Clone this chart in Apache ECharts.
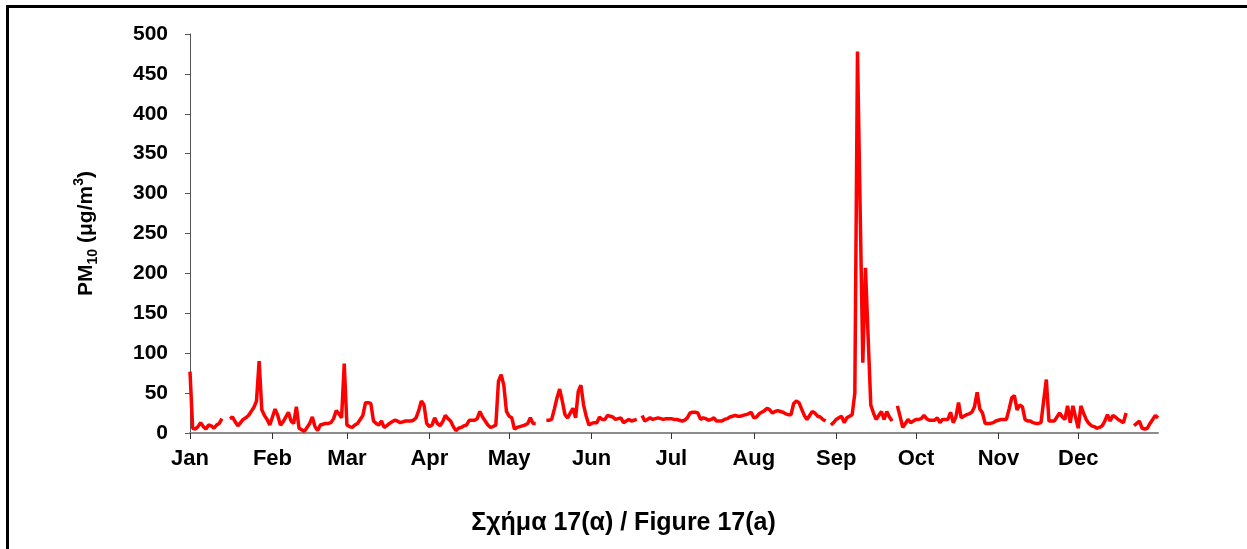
<!DOCTYPE html>
<html>
<head>
<meta charset="utf-8">
<script src="https://cdn.jsdelivr.net/npm/echarts@6/dist/echarts.min.js"></script>
<style>
html,body{margin:0;padding:0;background:#fff;}
#chart{width:1247px;height:549px;}
</style>
</head>
<body>
<div id="chart"></div>
<script>
// Tick labels (month names) and month lengths
const monthLabels = ['Jan','Feb','Mar','Apr','May','Jun','Jul','Aug','Sep','Oct','Nov','Dec'];
const monthDays = [31,28,31,30,31,30,31,31,30,31,30,31];

// Daily PM10 values (µg/m3), one array per month; null = missing day
const jan = [77,6,5,8,13,8,5,10,9,6, 10,12,18,null,null,18,20,14,9,13, 17,19,22,27,32,40,90,29,22,17, 10];
const feb = [20,30,22,10,14,20,26,15,12,33, 6,4,2,7,12,20,8,3,10,11, 12,12,13,18,28,24,19,87];
const mar = [10,8,7,10,12,17,22,38,38,37, 15,12,10,15,7,9,12,14,16,15, 13,14,15,15,15,16,19,28,40,35, 12];
const apr = [8,10,19,12,9,14,22,18,15,8, 3,6,7,9,10,16,16,16,18,27, 20,15,10,7,8,10,65,73,60,27];
const may = [21,19,5,7,8,9,10,12,19,12, 12,null,null,null,16,16,17,30,44,55, 40,23,19,25,31,19,52,60,35,21, 10];
const jun = [12,13,13,20,17,17,22,21,20,17, 18,19,13,15,17,15,16,17,null,22, 15,17,19,17,18,19,18,17,18,18];
const jul = [18,17,17,16,15,16,19,25,26,26, 25,17,19,18,16,17,19,15,15,15, 17,18,20,21,22,21,21,22,23,24, 26];
const aug = [19,20,24,26,28,31,29,25,27,28, 27,26,24,23,23,37,40,38,30,22, 17,22,27,25,21,20,17,15,null,10, 13];
const sep = [17,19,21,13,19,21,23,50,478,280, 88,207,120,35,25,17,22,27,17,27, 20,15,null,34,21,7,12,17,13,15];
const oct = [17,17,18,22,18,16,16,16,19,13, 17,17,17,26,13,20,38,19,21,23, 24,26,33,51,30,25,12,12,12,13, 15];
const nov = [16,17,17,17,30,44,47,29,35,33, 17,15,15,13,12,12,13,40,67,15, 15,15,20,25,20,17,34,13,34,20];
const dec = [6,34,25,17,12,9,8,6,7,9, 15,23,15,22,20,17,15,13,25,null, null,9,12,15,6,5,6,12,17,22, 19];

const values = [].concat(jan,feb,mar,apr,may,jun,jul,aug,sep,oct,nov,dec);

// Categories: one per day, named "Mon d"
const categories = [];
const monthStarts = [];
monthDays.forEach((n, m) => {
  monthStarts.push(categories.length);
  for (let d = 1; d <= n; d++) categories.push(monthLabels[m] + ' ' + d);
});
const isMonthStart = (idx) => monthStarts.indexOf(idx) !== -1;

const FONT = '"Liberation Sans", Arial, sans-serif';
const chart = echarts.init(document.getElementById('chart'));
chart.setOption({
  animation: false,
  backgroundColor: '#fff',
  title: {
    text: 'Σχήμα 17(α) / Figure 17(a)',
    left: 'center',
    top: 506,
    textStyle: {fontFamily: FONT, fontSize: 25, fontWeight: 'bold', color: '#000'}
  },
  graphic: [{
    type: 'rect',
    shape: {x: 7.5, y: 6.5, width: 1300, height: 600},
    style: {fill: 'none', stroke: '#000', lineWidth: 3},
    silent: true
  }],
  grid: {left: 190, right: 89, top: 34, bottom: 116, containLabel: false},
  xAxis: {
    type: 'category',
    data: categories,
    boundaryGap: false,
    axisLine: {show: true, lineStyle: {color: '#8c8c8c', width: 2}},
    axisTick: {show: true, interval: (i) => isMonthStart(i), length: 6, lineStyle: {color: '#333', width: 1}},
    axisLabel: {
      interval: (i) => isMonthStart(i),
      formatter: (v) => v.split(' ')[0],
      margin: 15,
      fontFamily: FONT, fontSize: 22, fontWeight: 'bold', color: '#000'
    },
    splitLine: {show: false}
  },
  yAxis: {
    type: 'value',
    min: 0, max: 500, interval: 50,
    name: '{a|PM}{sub|10}{a| (μg/m}{sup|3}{a|)}',
    nameLocation: 'middle',
    nameRotate: 90,
    nameGap: 90,
    nameTextStyle: {
      fontFamily: FONT, fontWeight: 'bold', color: '#000',
      rich: {
        a: {fontFamily: FONT, fontSize: 21, fontWeight: 'bold', color: '#000', lineHeight: 28, verticalAlign: 'middle'},
        sub: {fontFamily: FONT, fontSize: 14, fontWeight: 'bold', color: '#000', lineHeight: 28, verticalAlign: 'bottom'},
        sup: {fontFamily: FONT, fontSize: 14, fontWeight: 'bold', color: '#000', lineHeight: 28, verticalAlign: 'top'}
      }
    },
    axisLine: {show: true, lineStyle: {color: '#555', width: 1}},
    axisTick: {show: true, length: 5, lineStyle: {color: '#555', width: 1}},
    axisLabel: {margin: 22, fontFamily: FONT, fontSize: 21, fontWeight: 'bold', color: '#000'},
    splitLine: {show: false}
  },
  series: [{
    type: 'line',
    data: values,
    showSymbol: false,
    connectNulls: false,
    lineStyle: {color: '#ff0000', width: 3.5},
    itemStyle: {color: '#ff0000'}
  }]
});
</script>
</body>
</html>
